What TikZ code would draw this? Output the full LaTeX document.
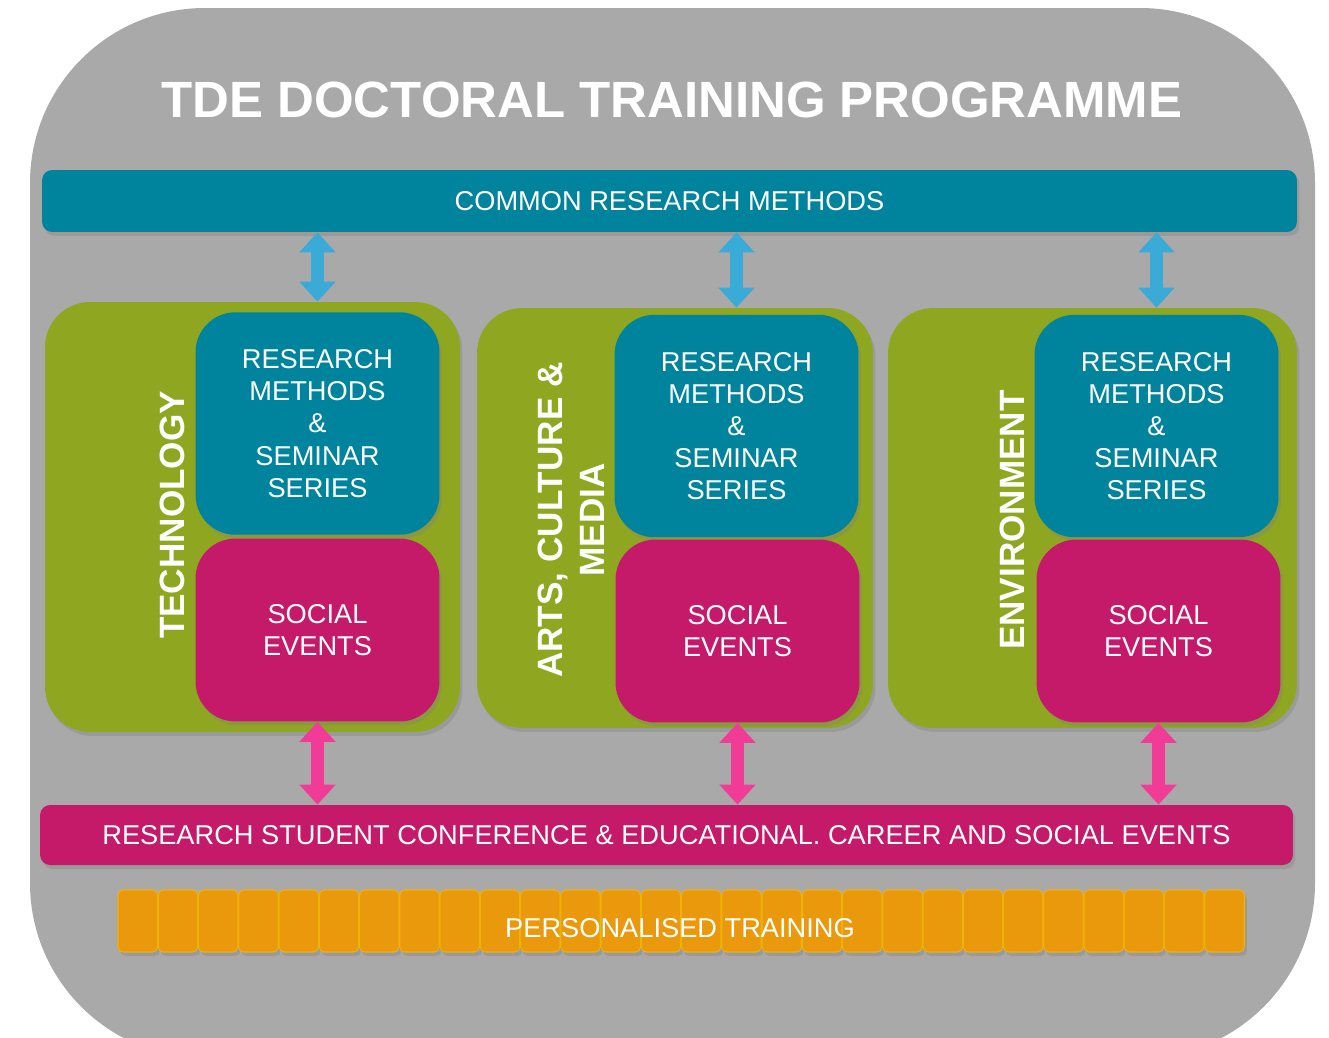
\documentclass[tikz,border=0pt]{standalone}
\usepackage{fontspec}
\setmainfont{Liberation Sans}
\usetikzlibrary{arrows.meta,shadows}

\definecolor{bggrey}{RGB}{169,169,170}
\definecolor{tdeteal}{RGB}{0,132,158}
\definecolor{tdegreen}{RGB}{143,166,32}
\definecolor{tdemagenta}{RGB}{197,26,106}
\definecolor{tdeorange}{RGB}{234,152,12}
\definecolor{arrowblue}{RGB}{58,170,214}
\definecolor{arrowpink}{RGB}{240,60,150}

\tikzset{
  boxtext/.style={text=white, align=center, inner sep=0pt,
    font=\fontsize{15.5}{18.3}\selectfont},
  softshadow/.style={drop shadow={shadow xshift=0.05cm, shadow yshift=-0.08cm,
    opacity=0.35}},
  bar/.style={boxtext, rounded corners=0.2cm, softshadow},
  areabox/.style={fill=tdegreen, rounded corners=0.9cm, softshadow},
  rmbox/.style={boxtext, fill=tdeteal, rounded corners=0.8cm, softshadow,
    minimum width=4.88cm, minimum height=4.45cm},
  sebox/.style={boxtext, fill=tdemagenta, rounded corners=0.8cm, softshadow,
    minimum width=4.88cm, minimum height=3.66cm},
  arealabel/.style={text=white, align=center, rotate=90, inner sep=0pt,
    font=\bfseries\fontsize{20}{24}\selectfont},
  link/.style={line width=0.26cm,
    arrows={Triangle[width=0.7cm,length=0.4cm]-Triangle[width=0.7cm,length=0.4cm]}}
}

\begin{document}
\begin{tikzpicture}[x=0.02cm, y=-0.02cm]
  \useasboundingbox (0,0) rectangle (1329,1038);
  \fill[white] (0,0) rectangle (1329,1038);
  \begin{scope}
    \clip (0,0) rectangle (1329,1038);
    \fill[bggrey, rounded corners=3.5cm] (30,8) rectangle (1315,1058);
  \end{scope}

  % title
  \node[text=white, font=\bfseries\fontsize{29}{34}\selectfont] (title) at (672,100)
    {TDE DOCTORAL TRAINING PROGRAMME};

  % common bar
  \node[bar, fill=tdeteal, minimum width=25.1cm, minimum height=1.24cm] (crm) at (669.5,201)
    {COMMON RESEARCH METHODS};

  % the three areas
  \node[areabox, minimum width=8.3cm, minimum height=8.6cm] (tech) at (252.5,517) {};
  \node[areabox, minimum width=7.92cm, minimum height=8.4cm] (arts) at (675,518) {};
  \node[areabox, minimum width=8.18cm, minimum height=8.4cm] (env) at (1092.5,518) {};

  \node[rmbox] (techrm) at (317.5,423.5) {RESEARCH\\METHODS\\\&\\SEMINAR\\SERIES};
  \node[rmbox] (artsrm) at (736.5,426) {RESEARCH\\METHODS\\\&\\SEMINAR\\SERIES};
  \node[rmbox] (envrm) at (1156.5,426) {RESEARCH\\METHODS\\\&\\SEMINAR\\SERIES};

  \node[sebox] (techse) at (317.5,630) {SOCIAL\\EVENTS};
  \node[sebox] (artsse) at (737.5,631) {SOCIAL\\EVENTS};
  \node[sebox] (envse) at (1158.5,631) {SOCIAL\\EVENTS};

  \node[arealabel] (techlabel) at (172,515) {TECHNOLOGY};
  \node[arealabel] (artslabel) at (571,520) {ARTS, CULTURE \&\\MEDIA};
  \node[arealabel] (envlabel) at (1012,520) {ENVIRONMENT};

  % bottom bar
  \node[bar, fill=tdemagenta, minimum width=25.06cm, minimum height=1.2cm] (rsc) at (666.5,835)
    {RESEARCH STUDENT CONFERENCE \& EDUCATIONAL. CAREER AND SOCIAL EVENTS};

  % arrows
  \draw[link, arrowblue] (crm.south -| techrm) -- (techrm |- tech.north);
  \draw[link, arrowblue] (crm.south -| artsrm) -- (artsrm |- arts.north);
  \draw[link, arrowblue] (crm.south -| envrm) -- (envrm |- env.north);
  \draw[link, arrowpink] (techse.south) -- (techse |- rsc.north);
  \draw[link, arrowpink] (artsse.south) -- (artsse |- rsc.north);
  \draw[link, arrowpink] (envse.south) -- (envse |- rsc.north);

  % personalised training
  \foreach \i in {0,...,27}
    \fill[tdeorange, draw=tdeorange!75!yellow, line width=0.6pt, rounded corners=0.1cm, softshadow]
      ({118+\i*40.25},890) rectangle ++(39.5,62);
  \node[boxtext] (training) at (680,928) {PERSONALISED TRAINING};
\end{tikzpicture}
\end{document}
